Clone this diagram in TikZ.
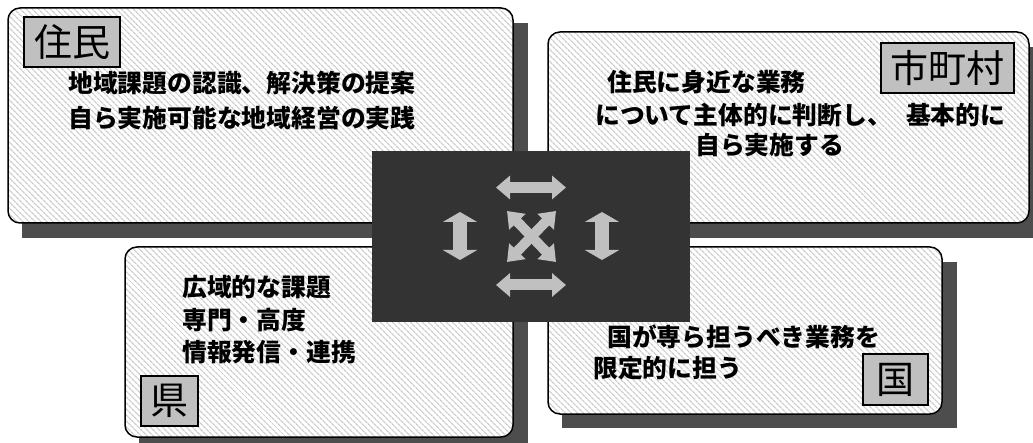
\documentclass[tikz,border=0pt]{standalone}
\usepackage{fontspec}
\newfontfamily\jp{Noto Sans CJK JP}
\usetikzlibrary{patterns.meta,arrows.meta}
\definecolor{shadowgray}{HTML}{4D4D4D}
\definecolor{centergray}{HTML}{333333}
\definecolor{arrowgray}{HTML}{C0C0C0}
\definecolor{taggray}{HTML}{C0C0C0}
\definecolor{stripe}{HTML}{CCCCCC}
\tikzset{
  shadowbox/.style={fill=shadowgray},
  panel/.style={draw=black, line width=1.5pt, rounded corners=12pt,
    preaction={fill=white},
    pattern={Lines[angle=-45,distance=4pt,line width=1.3pt]}, pattern color=stripe},
  tag/.style={draw=black, line width=1.5pt, fill=taggray, inner sep=0pt,
    font=\jp\fontsize{38}{38}\selectfont},
  body/.style={anchor=west, inner sep=0pt, font=\jp\bfseries\fontsize{24.8}{24.8}\selectfont},
  hdbl/.style={draw=arrowgray, line width=11pt,
    {Triangle[width=23pt,length=14pt]}-{Triangle[width=23pt,length=14pt]}},
  vdbl/.style={draw=arrowgray, line width=14pt,
    {Triangle[width=34pt,length=10pt]}-{Triangle[width=34pt,length=10pt]}},
  xdbl/.style={draw=arrowgray, line width=10pt,
    {Triangle[width=22pt,length=15pt]}-{Triangle[width=22pt,length=15pt]}},
}
\begin{document}
\begin{tikzpicture}[x=1pt,y=-1pt]
\useasboundingbox (0,0) rectangle (1033,443);
% shadows
\path[shadowbox] (22,23) rectangle (528,238);
\path[shadowbox] (562,47) rectangle (1045,238);
\path[shadowbox] (139,262) rectangle (528,452);
\path[shadowbox] (562,262) rectangle (957,428);
% panels
\path[panel] (8,8) rectangle (513,223);
\path[panel] (548,32) rectangle (1029,223);
\path[panel] (125,247) rectangle (513,437);
\path[panel] (548,247) rectangle (942,414);
% tags
\node[tag, minimum width=96pt, minimum height=50pt] (tjumin) at (72,42) {住民};
\node[tag, minimum width=133pt, minimum height=50pt] (tshi) at (947.5,68) {市町村};
\node[tag, minimum width=57pt, minimum height=50pt] (tken) at (169.5,401) {県};
\node[tag, minimum width=65pt, minimum height=51pt] (tkuni) at (895.5,379.5) {国};
% body texts
\node[body] (a1) at (68,83) {地域課題の認識、解決策の提案};
\node[body] (a2) at (68,118) {自ら実施可能な地域経営の実践};
\node[body] (b1) at (607,82) {住民に身近な業務};
\node[body] (b2) at (595,115) {について主体的に判断し、\hspace{14pt}基本的に};
\node[body] (b3) at (695,145) {自ら実施する};
\node[body] (c1) at (182,287) {広域的な課題};
\node[body] (c2) at (182,320) {専門・高度};
\node[body] (c3) at (182,352) {情報発信・連携};
\node[body] (d1) at (607,337) {国が専ら担うべき業務を};
\node[body] (d2) at (593,368) {限定的に担う};
% centre
\path[fill=centergray] (372,151) rectangle (690,322);
\coordinate (h1a) at (496,187.5); \coordinate (h1b) at (566,187.5);
\coordinate (h2a) at (496,285); \coordinate (h2b) at (566,285);
\coordinate (v1a) at (460,212); \coordinate (v1b) at (460,260);
\coordinate (v2a) at (602,212); \coordinate (v2b) at (602,260);
\coordinate (xa) at (507,211); \coordinate (xb) at (556,262);
\coordinate (xc) at (556,211); \coordinate (xd) at (507,262);
\draw[hdbl] (h1a) -- (h1b);
\draw[hdbl] (h2a) -- (h2b);
\draw[vdbl] (v1a) -- (v1b);
\draw[vdbl] (v2a) -- (v2b);
\draw[xdbl] (xa) -- (xb);
\draw[xdbl] (xc) -- (xd);
\end{tikzpicture}
\end{document}
